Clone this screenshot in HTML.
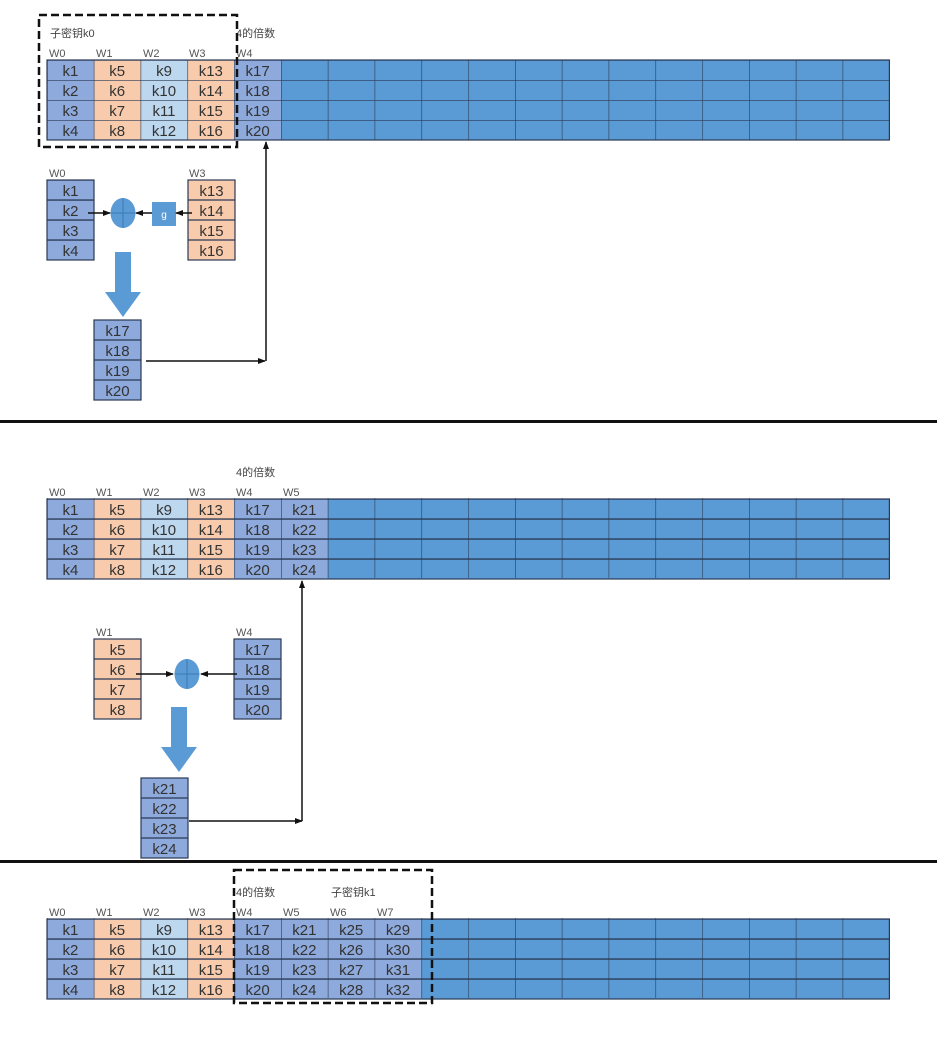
<!DOCTYPE html>
<html><head><meta charset="utf-8"><style>
html,body{margin:0;padding:0;background:#fff;}
svg{display:block;}
text{font-family:"Liberation Sans","Noto Sans CJK SC",sans-serif;}
.k{font-size:15px;fill:#333;text-anchor:middle;}
.w{font-size:11px;fill:#555;}
.c{font-size:11px;fill:#444;}
</style></head><body>
<svg width="937" height="1039" viewBox="0 0 937 1039" xmlns="http://www.w3.org/2000/svg">
<defs>
<pattern id="grid" x="47" y="0" width="46.8" height="20" patternUnits="userSpaceOnUse">
<path d="M0 0V20M0 0H46.8" stroke="#2a3a55" stroke-width="1.2" fill="none"/>
</pattern>
<pattern id="gs" x="0" y="0" width="47" height="20" patternUnits="userSpaceOnUse">
<path d="M0 0H47" stroke="#2a3a55" stroke-width="1.2" fill="none"/>
</pattern>
<marker id="ah" markerWidth="8" markerHeight="8" refX="7" refY="4" orient="auto" markerUnits="userSpaceOnUse">
<path d="M0 1L8 4L0 7Z" fill="#111"/>
</marker>
</defs>

<!-- ===== Section 1 ===== -->
<rect x="47" y="60" width="842.4" height="80" fill="#5B9BD5"/>
<rect x="47" y="60" width="46.8" height="80" fill="#8EA9DB"/>
<rect x="93.8" y="60" width="46.8" height="80" fill="#F8CBAD"/>
<rect x="140.6" y="60" width="46.8" height="80" fill="#BDD7EE"/>
<rect x="187.4" y="60" width="46.8" height="80" fill="#F8CBAD"/>
<rect x="234.2" y="60" width="46.8" height="80" fill="#8EA9DB"/>
<rect x="47" y="60" width="842.4" height="80" fill="url(#grid)"/>
<rect x="47" y="60" width="842.4" height="80" fill="none" stroke="#2a3a55" stroke-width="1.2"/>
<g class="k">
<text x="70.4" y="76">k1</text><text x="70.4" y="96">k2</text><text x="70.4" y="116">k3</text><text x="70.4" y="136">k4</text>
<text x="117.2" y="76">k5</text><text x="117.2" y="96">k6</text><text x="117.2" y="116">k7</text><text x="117.2" y="136">k8</text>
<text x="164" y="76">k9</text><text x="164" y="96">k10</text><text x="164" y="116">k11</text><text x="164" y="136">k12</text>
<text x="210.8" y="76">k13</text><text x="210.8" y="96">k14</text><text x="210.8" y="116">k15</text><text x="210.8" y="136">k16</text>
<text x="257.6" y="76">k17</text><text x="257.6" y="96">k18</text><text x="257.6" y="116">k19</text><text x="257.6" y="136">k20</text>
</g>
<g class="w"><text x="49" y="57">W0</text><text x="96" y="57">W1</text><text x="143" y="57">W2</text><text x="189" y="57">W3</text><text x="236" y="57">W4</text></g>
<text class="c" x="50" y="37">子密钥k0</text>
<text class="c" x="236" y="37">4的倍数</text>
<rect x="39" y="15" width="198" height="132" fill="none" stroke="#111" stroke-width="2.5" stroke-dasharray="8,4"/>

<!-- lower diagram 1 -->
<rect x="47" y="180" width="47" height="80" fill="#8EA9DB"/>
<rect x="47" y="180" width="47" height="80" fill="url(#gs)"/>
<rect x="47" y="180" width="47" height="80" fill="none" stroke="#2a3a55" stroke-width="1.2"/>
<rect x="188" y="180" width="47" height="80" fill="#F8CBAD"/>
<rect x="188" y="180" width="47" height="80" fill="none" stroke="#2a3a55" stroke-width="1.2"/>
<path d="M188 200H235M188 220H235M188 240H235M47 200H94M47 220H94M47 240H94" stroke="#2a3a55" stroke-width="1.2"/>
<g class="k">
<text x="70.5" y="196">k1</text><text x="70.5" y="216">k2</text><text x="70.5" y="236">k3</text><text x="70.5" y="256">k4</text>
<text x="211.5" y="196">k13</text><text x="211.5" y="216">k14</text><text x="211.5" y="236">k15</text><text x="211.5" y="256">k16</text>
</g>
<text class="w" x="49" y="177">W0</text><text class="w" x="189" y="177">W3</text>
<ellipse cx="123" cy="213" rx="12.5" ry="15" fill="#5B9BD5"/>
<path d="M110.5 213H135.5M123 198V228" stroke="#3d7ab8" stroke-width="1"/>
<rect x="152" y="202" width="24" height="24" fill="#5B9BD5"/>
<text x="164" y="218" font-size="10" fill="#fff" text-anchor="middle">g</text>
<line x1="88" y1="213" x2="110" y2="213" stroke="#111" stroke-width="1.5" marker-end="url(#ah)"/>
<line x1="192" y1="213" x2="176" y2="213" stroke="#111" stroke-width="1.5" marker-end="url(#ah)"/>
<line x1="152" y1="213" x2="136" y2="213" stroke="#111" stroke-width="1.5" marker-end="url(#ah)"/>
<path d="M115 252H131V292H141L123 317L105 292H115Z" fill="#5B9BD5"/>
<rect x="94" y="320" width="47" height="80" fill="#8EA9DB" stroke="#2a3a55" stroke-width="1.2"/>
<path d="M94 340H141M94 360H141M94 380H141" stroke="#2a3a55" stroke-width="1.2"/>
<g class="k"><text x="117.5" y="336">k17</text><text x="117.5" y="356">k18</text><text x="117.5" y="376">k19</text><text x="117.5" y="396">k20</text></g>
<line x1="146" y1="361" x2="265" y2="361" stroke="#111" stroke-width="1.5" marker-end="url(#ah)"/>
<line x1="266" y1="361" x2="266" y2="142" stroke="#111" stroke-width="1.5" marker-end="url(#ah)"/>

<rect x="0" y="420" width="937" height="3" fill="#111"/>

<!-- ===== Section 2 ===== -->
<rect x="47" y="499" width="842.4" height="80" fill="#5B9BD5"/>
<rect x="47" y="499" width="46.8" height="80" fill="#8EA9DB"/>
<rect x="93.8" y="499" width="46.8" height="80" fill="#F8CBAD"/>
<rect x="140.6" y="499" width="46.8" height="80" fill="#BDD7EE"/>
<rect x="187.4" y="499" width="46.8" height="80" fill="#F8CBAD"/>
<rect x="234.2" y="499" width="93.6" height="80" fill="#8EA9DB"/>
<rect x="47" y="499" width="842.4" height="80" fill="url(#grid)" transform="translate(0,-1)"/>
<rect x="47" y="499" width="842.4" height="80" fill="none" stroke="#2a3a55" stroke-width="1.2"/>
<path d="M47 519H889M47 539H889M47 559H889" stroke="#2a3a55" stroke-width="1.2"/>
<g class="k">
<text x="70.4" y="515">k1</text><text x="70.4" y="535">k2</text><text x="70.4" y="555">k3</text><text x="70.4" y="575">k4</text>
<text x="117.2" y="515">k5</text><text x="117.2" y="535">k6</text><text x="117.2" y="555">k7</text><text x="117.2" y="575">k8</text>
<text x="164" y="515">k9</text><text x="164" y="535">k10</text><text x="164" y="555">k11</text><text x="164" y="575">k12</text>
<text x="210.8" y="515">k13</text><text x="210.8" y="535">k14</text><text x="210.8" y="555">k15</text><text x="210.8" y="575">k16</text>
<text x="257.6" y="515">k17</text><text x="257.6" y="535">k18</text><text x="257.6" y="555">k19</text><text x="257.6" y="575">k20</text>
<text x="304.4" y="515">k21</text><text x="304.4" y="535">k22</text><text x="304.4" y="555">k23</text><text x="304.4" y="575">k24</text>
</g>
<g class="w"><text x="49" y="496">W0</text><text x="96" y="496">W1</text><text x="143" y="496">W2</text><text x="189" y="496">W3</text><text x="236" y="496">W4</text><text x="283" y="496">W5</text></g>
<text class="c" x="236" y="476">4的倍数</text>

<rect x="94" y="639" width="47" height="80" fill="#F8CBAD" stroke="#2a3a55" stroke-width="1.2"/>
<path d="M94 659H141M94 679H141M94 699H141" stroke="#2a3a55" stroke-width="1.2"/>
<rect x="234" y="639" width="47" height="80" fill="#8EA9DB" stroke="#2a3a55" stroke-width="1.2"/>
<path d="M234 659H281M234 679H281M234 699H281" stroke="#2a3a55" stroke-width="1.2"/>
<g class="k">
<text x="117.5" y="655">k5</text><text x="117.5" y="675">k6</text><text x="117.5" y="695">k7</text><text x="117.5" y="715">k8</text>
<text x="257.5" y="655">k17</text><text x="257.5" y="675">k18</text><text x="257.5" y="695">k19</text><text x="257.5" y="715">k20</text>
</g>
<text class="w" x="96" y="636">W1</text><text class="w" x="236" y="636">W4</text>
<ellipse cx="187" cy="674" rx="12.5" ry="15" fill="#5B9BD5"/>
<path d="M174.5 674H199.5M187 659V689" stroke="#3d7ab8" stroke-width="1"/>
<line x1="136" y1="674" x2="173" y2="674" stroke="#111" stroke-width="1.5" marker-end="url(#ah)"/>
<line x1="237" y1="674" x2="201" y2="674" stroke="#111" stroke-width="1.5" marker-end="url(#ah)"/>
<path d="M171 707H187V747H197L179 772L161 747H171Z" fill="#5B9BD5"/>
<rect x="141" y="778" width="47" height="80" fill="#8EA9DB" stroke="#2a3a55" stroke-width="1.2"/>
<path d="M141 798H188M141 818H188M141 838H188" stroke="#2a3a55" stroke-width="1.2"/>
<g class="k"><text x="164.5" y="794">k21</text><text x="164.5" y="814">k22</text><text x="164.5" y="834">k23</text><text x="164.5" y="854">k24</text></g>
<line x1="189" y1="821" x2="302" y2="821" stroke="#111" stroke-width="1.5" marker-end="url(#ah)"/>
<line x1="302" y1="821" x2="302" y2="581" stroke="#111" stroke-width="1.5" marker-end="url(#ah)"/>

<rect x="0" y="860" width="937" height="3" fill="#111"/>

<!-- ===== Section 3 ===== -->
<rect x="47" y="919" width="842.4" height="80" fill="#5B9BD5"/>
<rect x="47" y="919" width="46.8" height="80" fill="#8EA9DB"/>
<rect x="93.8" y="919" width="46.8" height="80" fill="#F8CBAD"/>
<rect x="140.6" y="919" width="46.8" height="80" fill="#BDD7EE"/>
<rect x="187.4" y="919" width="46.8" height="80" fill="#F8CBAD"/>
<rect x="234.2" y="919" width="187.2" height="80" fill="#8EA9DB"/>
<rect x="47" y="919" width="842.4" height="80" fill="url(#grid)" transform="translate(0,-1)"/>
<rect x="47" y="919" width="842.4" height="80" fill="none" stroke="#2a3a55" stroke-width="1.2"/>
<path d="M47 939H889M47 959H889M47 979H889" stroke="#2a3a55" stroke-width="1.2"/>
<g class="k">
<text x="70.4" y="935">k1</text><text x="70.4" y="955">k2</text><text x="70.4" y="975">k3</text><text x="70.4" y="995">k4</text>
<text x="117.2" y="935">k5</text><text x="117.2" y="955">k6</text><text x="117.2" y="975">k7</text><text x="117.2" y="995">k8</text>
<text x="164" y="935">k9</text><text x="164" y="955">k10</text><text x="164" y="975">k11</text><text x="164" y="995">k12</text>
<text x="210.8" y="935">k13</text><text x="210.8" y="955">k14</text><text x="210.8" y="975">k15</text><text x="210.8" y="995">k16</text>
<text x="257.6" y="935">k17</text><text x="257.6" y="955">k18</text><text x="257.6" y="975">k19</text><text x="257.6" y="995">k20</text>
<text x="304.4" y="935">k21</text><text x="304.4" y="955">k22</text><text x="304.4" y="975">k23</text><text x="304.4" y="995">k24</text>
<text x="351.2" y="935">k25</text><text x="351.2" y="955">k26</text><text x="351.2" y="975">k27</text><text x="351.2" y="995">k28</text>
<text x="398" y="935">k29</text><text x="398" y="955">k30</text><text x="398" y="975">k31</text><text x="398" y="995">k32</text>
</g>
<g class="w"><text x="49" y="916">W0</text><text x="96" y="916">W1</text><text x="143" y="916">W2</text><text x="189" y="916">W3</text><text x="236" y="916">W4</text><text x="283" y="916">W5</text><text x="330" y="916">W6</text><text x="377" y="916">W7</text></g>
<text class="c" x="236" y="896">4的倍数</text>
<text class="c" x="331" y="896">子密钥k1</text>
<rect x="234" y="870" width="198" height="133" fill="none" stroke="#111" stroke-width="2.5" stroke-dasharray="8,4"/>
</svg>
</body></html>
